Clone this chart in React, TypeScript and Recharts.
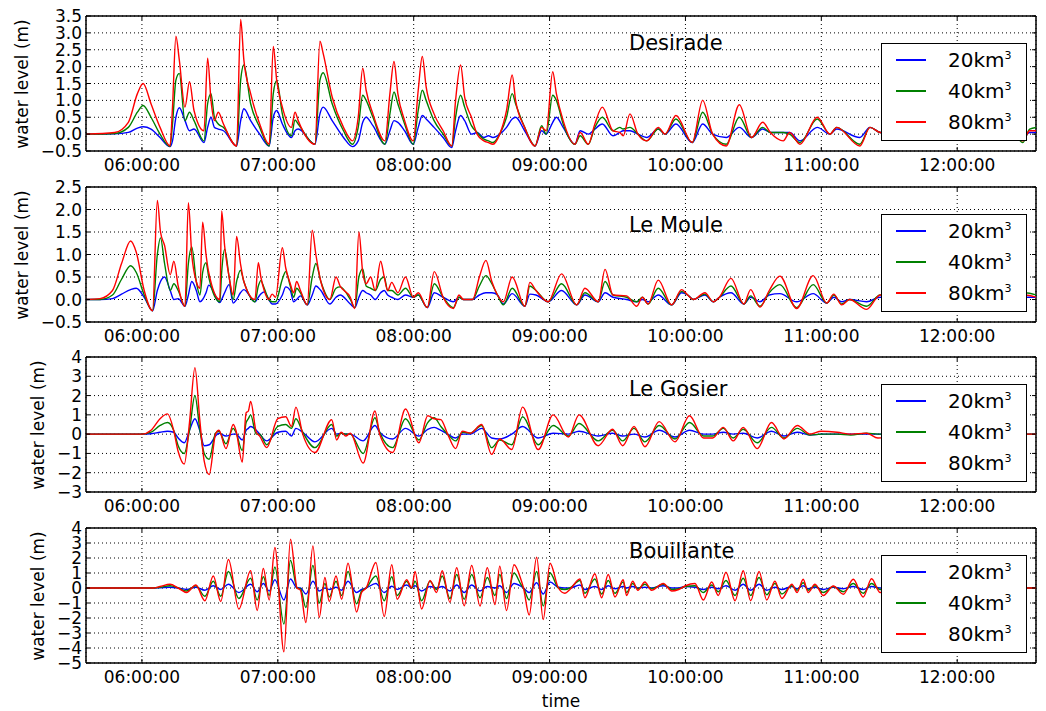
import React from "react";
import { LineChart, Line, XAxis, YAxis, CartesianGrid, ReferenceLine } from "recharts";

// time axis is in minutes after midnight
const X_MIN = 335.3;
const X_MAX = 754.8;
const timeTicks = [360, 420, 480, 540, 600, 660, 720];

const volumes = [20, 40, 80];
const seriesKeys = ["v20", "v40", "v80"];
const seriesColors = ["#0000ff", "#008000", "#ff0000"];

// Desirade
const desiradeTime = [
  335, 348, 354, 358, 360.5, 364, 368, 372.4, 373.5, 375,
  376.5, 379, 381, 383, 387.4, 389, 390.5, 392, 393.7, 396,
  401.8, 403.6, 405, 408, 412, 416.2, 418, 419.5, 422, 426,
  427.6, 429, 436.4, 438.6, 440, 444, 449, 453, 455.5, 457.5,
  459, 462, 467.3, 469.5, 471.3, 473, 476, 479.8, 482, 483.8,
  485.5, 489, 493, 496.8, 498.5, 500.7, 502.5, 505.5, 508, 511,
  513, 515, 518, 521, 523.5, 525, 529, 533.6, 536.5, 538.5,
  541.4, 543, 546, 551.2, 553.5, 557.1, 560, 563.3, 568, 571,
  572.5, 575.5, 579, 582.9, 588, 591, 595.8, 603, 607.6, 612,
  618, 623.8, 629.2, 634.1, 637.5, 643.2, 646, 650.6, 658.2, 663.8,
  666.8, 677, 681.5, 686, 700, 720, 745, 749, 752, 755,
];
const desirade20 = [
  0, 0.01, 0.05, 0.18, 0.22, 0.15, -0.1, -0.37, -0.2, 0.5,
  0.78, 0.4, 0.1, 0.15, -0.25, 0.2, 0.5, 0.2, 0.15, 0.1,
  -0.35, 0.4, 0.75, 0.4, 0, -0.35, 0.5, 0.7, 0.3, -0.1,
  0.1, 0.15, -0.3, 0.6, 0.8, 0.4, -0.1, -0.37, -0.2, 0.35,
  0.5, 0.25, -0.3, 0.1, 0.4, 0.35, 0.1, -0.3, 0.2, 0.55,
  0.45, 0.2, -0.1, -0.4, 0.1, 0.55, 0.4, 0, 0.05, -0.1,
  -0.05, -0.1, 0, 0.2, 0.45, 0.5, 0.1, -0.35, 0.1, 0,
  0.35, 0.5, 0.2, -0.3, 0.1, 0, 0.15, 0.3, -0.05, 0.05,
  0.1, 0.1, 0, -0.1, 0.15, 0, 0.3, -0.25, 0.3, 0,
  -0.1, 0.2, -0.1, 0.15, 0.05, 0.05, 0.05, -0.2, 0.2, 0,
  0.15, -0.1, 0.2, 0.05, 0, 0, 0, -0.1, 0.05, 0.05,
];
const desirade40 = [
  0, 0.02, 0.2, 0.65, 0.85, 0.5, 0, -0.37, 0.3, 1.6,
  1.8, 0.4, 0.65, 0.4, -0.2, 0.9, 1.2, 0.5, 0.3, 0.2,
  -0.35, 1.6, 2.05, 0.9, 0.2, -0.35, 1.2, 1.58, 0.6, -0.05,
  0.42, 0.3, -0.3, 1.6, 1.82, 0.9, 0.1, -0.3, 0.2, 1.15,
  1.0, 0.5, -0.3, 0.6, 1.25, 0.9, 0.3, -0.3, 0.7, 1.3,
  1.0, 0.4, 0, -0.35, 0.5, 1.15, 0.8, 0.25, 0.05, -0.15,
  -0.2, -0.25, 0, 0.5, 1.2, 0.9, 0.2, -0.35, 0.25, 0,
  1.15, 1.0, 0.3, -0.3, -0.05, -0.3, 0.2, 0.5, 0.1, 0.2,
  0.15, 0.2, 0, -0.2, 0.15, 0, 0.45, -0.25, 0.65, 0,
  -0.3, 0.5, -0.1, 0.2, 0.05, 0.05, 0, -0.25, 0.45, 0,
  0.2, -0.3, 0.2, 0.05, 0, 0, 0, -0.25, 0.15, 0.2,
];
const desirade80 = [
  0, 0.05, 0.35, 1.2, 1.5, 0.9, 0.2, -0.35, 0.8, 2.9,
  2.2, 0.8, 1.55, 0.7, 0.1, 2.25, 1.0, 0.4, 0.65, 0.3,
  -0.35, 3.4, 2.2, 1.2, 0.3, -0.3, 2.6, 1.6, 0.8, 0.2,
  0.65, 0.4, -0.3, 2.75, 2.4, 1.1, 0.2, -0.2, 0.5, 1.95,
  1.3, 0.6, -0.2, 1.2, 2.15, 1.2, 0.4, -0.2, 1.3, 2.3,
  1.4, 0.6, 0.1, -0.35, 1.0, 2.05, 1.1, 0.5, 0, -0.2,
  -0.25, -0.3, 0, 0.7, 1.75, 1.0, 0.2, -0.35, 0.2, 0.1,
  1.85, 1.2, 0.4, -0.3, 0.05, -0.3, 0.3, 0.8, 0.1, 0.05,
  -0.05, 0.6, 0, -0.2, 0.2, 0, 0.55, -0.25, 1.0, 0,
  -0.35, 0.87, -0.1, 0.35, 0.05, -0.2, 0.05, -0.3, 0.5, 0,
  0.2, -0.35, 0.2, 0.05, 0, 0, 0, -0.2, 0.1, 0.1,
];

// Le Moule
const mouleTime = [
  335, 341.5, 347, 351, 355, 357.5, 361, 364.7, 366.8, 368.2,
  370, 372.5, 374.1, 376, 379, 380.5, 382, 384, 385.6, 386.8,
  388.3, 389.5, 394.4, 395.2, 396.5, 398.5, 400.3, 401.8, 403.5, 405,
  409.9, 411.4, 412.5, 414, 416, 417.5, 419, 422, 423.5, 425.5,
  427, 428.3, 430, 433, 435.2, 436.8, 439, 443, 445.7, 447.5,
  452, 454, 455.8, 457.5, 459, 461, 463, 465.4, 467, 468.5,
  470.3, 473, 476.4, 479.8, 482, 486, 489.1, 493, 497.5, 500,
  502, 506, 509, 511.9, 514.5, 517, 519.6, 523.5, 529.1, 531.3,
  534, 539.4, 545.3, 552, 555.6, 561.5, 564.5, 568, 574, 578.5,
  581, 583.5, 588, 593.9, 598.3, 601, 603.5, 608.6, 612.3, 615,
  620.1, 625.8, 628.8, 632.9, 637, 641.7, 649.1, 656.4, 662.4, 665.5,
  669, 672.5, 680, 686, 700, 720, 745, 750, 755,
];
const moule20 = [
  0, 0, 0.02, 0.12, 0.22, 0.25, 0.05, -0.25, 0.2, 0.4,
  0.5, 0.2, 0, 0.02, -0.15, 0.1, 0.4, 0.2, -0.05, 0,
  0.15, 0.32, -0.07, 0, 0.15, 0.33, -0.08, 0, 0.15, 0.22,
  -0.05, 0.05, 0.12, 0.17, 0, -0.1, -0.1, 0.1, 0.28, 0.2,
  -0.05, 0, 0.08, -0.12, 0.1, 0.3, 0.2, -0.1, 0.05, 0.1,
  -0.1, -0.18, 0.05, 0.2, 0.15, 0.1, 0, 0.15, 0.2, 0.1,
  0.05, 0, 0.1, 0.05, 0.1, -0.18, 0.15, 0.05, -0.05, 0.05,
  0, 0, 0.1, 0.15, 0.15, 0.1, -0.1, 0.13, -0.15, 0.12,
  0.1, -0.05, 0.2, -0.12, 0.1, -0.05, 0.15, 0.05, 0, -0.05,
  0, -0.05, 0.1, -0.12, 0.15, 0.1, 0, 0.1, -0.05, 0.05,
  0.15, -0.1, 0.05, -0.05, 0.1, 0.13, -0.05, 0.13, -0.08, 0.05,
  -0.05, 0, -0.05, 0.05, 0, 0, 0, 0.05, 0.05,
];
const moule40 = [
  0, 0, 0.1, 0.45, 0.75, 0.6, 0.1, -0.25, 1.0, 1.37,
  0.8, 0.2, 0.35, 0.2, -0.15, 0.8, 1.17, 0.4, 0.1, 0.6,
  0.82, 0.5, -0.05, 0.6, 1.12, 0.5, 0, 0.4, 0.65, 0.4,
  -0.05, 0.3, 0.42, 0.25, 0, -0.05, -0.05, 0.45, 0.62, 0.3,
  0.05, 0.25, 0.15, -0.12, 0.5, 0.8, 0.4, 0, 0.25, 0.28,
  0, -0.18, 0.5, 0.68, 0.3, 0.25, 0.2, 0.45, 0.5, 0.2,
  0.2, 0.1, 0.25, 0.05, 0.1, -0.18, 0.35, 0.05, -0.18, 0.05,
  0, 0, 0.3, 0.53, 0.35, 0.1, -0.12, 0.25, -0.15, 0.3,
  0.2, -0.05, 0.35, -0.12, 0.15, -0.05, 0.4, 0.1, 0.05, -0.05,
  0.05, -0.1, 0.25, -0.12, 0.18, 0.1, 0, 0.12, -0.05, 0.05,
  0.3, -0.1, 0.08, -0.15, 0.15, 0.33, -0.18, 0.33, -0.08, 0.1,
  -0.1, 0, -0.15, 0.1, 0, 0, 0, 0.15, 0.1,
];
const moule80 = [
  0, 0.02, 0.2, 0.8, 1.3, 1.05, 0.2, -0.25, 2.2, 1.5,
  1.2, 0.55, 0.85, 0.3, -0.15, 2.15, 1.0, 0.4, 0.25, 1.72,
  1.0, 0.6, 0, 1.97, 1.2, 0.5, 0.1, 1.4, 0.8, 0.4,
  0, 0.82, 0.5, 0.2, 0, 0.12, 0.05, 1.15, 0.7, 0.35,
  0.15, 0.4, 0.2, -0.12, 1.54, 1.0, 0.4, 0, 0.5, 0.3,
  0.05, -0.2, 1.5, 0.6, 0.35, 0.5, 0.2, 0.85, 0.5, 0.2,
  0.38, 0.15, 0.5, 0.05, 0.15, -0.18, 0.62, 0.05, -0.2, 0.1,
  0, 0, 0.5, 0.87, 0.4, 0.1, -0.05, 0.5, -0.15, 0.38,
  0.2, -0.05, 0.57, -0.12, 0.25, -0.05, 0.67, 0.1, 0.08, -0.15,
  0.05, -0.1, 0.43, -0.12, 0.22, 0.1, 0, 0.15, -0.05, 0.05,
  0.47, -0.1, 0.22, -0.17, 0.2, 0.52, -0.2, 0.53, -0.08, 0.12,
  -0.12, 0, -0.22, 0.1, 0, 0, 0, 0.1, 0.05,
];

// Le Gosier
const gosierTime = [
  335, 360, 364, 368, 371.3, 374, 376, 378.7, 381, 383.4,
  385.5, 387.5, 389.7, 392.5, 394, 397.1, 400.3, 401.5, 404.3, 406,
  407, 408, 410.5, 412, 415.1, 420, 423.5, 426, 428, 431,
  436.4, 443.8, 446, 448, 450, 452, 457.7, 462.9, 465, 470.7,
  476.4, 482.3, 486.2, 489, 492, 495, 498.5, 501.5, 505, 510,
  514.4, 518, 523.3, 528.1, 535, 541.6, 548.3, 553, 561.5, 567.8,
  572.3, 577.3, 582.1, 588.4, 595.4, 601.8, 608, 612, 616.7, 621.1,
  625.5, 631.7, 638, 643.5, 649.4, 655, 660, 667, 673, 680,
  685, 700, 755,
];
const gosier20 = [
  0, 0, 0.02, 0.1, 0.15, 0.1, -0.2, -0.45, 0.2, 0.8,
  0.2, -0.6, -0.55, -0.1, 0.05, -0.1, 0, 0, -0.3, 0.2,
  0.3, 0.4, 0.2, 0, -0.35, 0.1, 0.15, -0.1, 0.3, 0.1,
  -0.4, 0.3, 0, 0.05, 0, 0, -0.35, 0.45, 0.1, -0.25,
  0.3, -0.1, 0.25, 0.35, 0.2, 0, -0.2, 0, 0, 0.3,
  -0.2, -0.25, 0, 0.4, -0.2, 0.05, 0, 0.15, -0.1, 0.05,
  -0.1, 0, -0.15, 0.2, -0.15, 0.2, 0, 0, 0.1, 0,
  0.05, -0.2, 0.15, -0.1, 0.1, -0.05, 0, 0, 0, 0,
  0, 0, 0,
];
const gosier40 = [
  0, 0, 0.1, 0.45, 0.6, 0.2, -0.6, -1.0, 0.2, 2.0,
  0.3, -1.0, -1.3, 0.05, 0.15, -0.5, 0.3, 0.1, -0.85, 0.6,
  0.8, 1.0, 0, 0, -0.55, 0.4, 0.5, 0.3, 0.8, 0.1,
  -0.7, 0.5, -0.1, 0.05, 0, 0, -1.0, 0.85, 0.1, -0.7,
  0.8, -0.3, 0.6, 0.85, 0.4, 0, -0.35, 0.1, 0.05, 0.45,
  -0.7, -0.3, -0.55, 0.9, -0.55, 0.45, -0.1, 0.55, -0.35, 0.2,
  -0.35, 0.3, -0.4, 0.45, -0.25, 0.6, -0.1, -0.1, 0.3, -0.2,
  0.25, -0.45, 0.35, -0.2, 0.3, -0.05, 0, 0, -0.05, 0.05,
  0, 0, 0,
];
const gosier80 = [
  0, 0, 0.2, 0.8, 1.05, 0.2, -0.9, -1.55, 0.6, 3.45,
  0.8, -1.4, -2.1, 0, 0.2, -0.75, 0.5, 0.2, -1.45, 1.1,
  1.2, 1.7, 0.1, -0.1, -0.7, 0.8, 0.9, 0.4, 1.4, 0,
  -0.95, 0.75, -0.3, 0.1, -0.1, 0.05, -1.5, 1.2, 0, -0.95,
  1.3, -0.45, 0.95, 0.8, 0.75, 0, -0.75, 0.15, 0.05, 0.5,
  -1.05, -0.25, -0.8, 1.4, -0.8, 1.0, -0.15, 1.0, -0.6, 0.25,
  -0.6, 0.4, -0.65, 0.65, -0.4, 0.95, -0.2, -0.2, 0.35, -0.35,
  0.35, -0.75, 0.6, -0.25, 0.45, 0, 0.15, 0.1, 0, 0.05,
  -0.2, 0, 0,
];

// Bouillante
const bouillanteTime = [
  335, 365, 368, 372.4, 376, 379.7, 383.8, 387.8, 391.5, 394.8,
  398.2, 402.8, 408, 410.9, 413.6, 416.2, 418.7, 422.7, 425.6, 428.5,
  430, 432.4, 435.5, 438.3, 440.8, 442.7, 445.7, 448.2, 451, 454.8,
  457, 459, 463.3, 467, 470.3, 472.7, 476.9, 479.1, 480.6, 483.5,
  487.2, 490.1, 492.6, 496, 499, 502.3, 505.6, 509.3, 512.5, 515.9,
  518, 521, 524.3, 527.5, 528.5, 531, 534.3, 537.2, 540.2, 543.9,
  546.8, 549, 553.4, 555.6, 560, 563, 565.9, 568.9, 572.5, 574,
  576.7, 579, 582.1, 585, 590.2, 594, 597, 600, 604.2, 607.9,
  611.6, 614.5, 617.9, 621.9, 625.5, 628.8, 632.5, 635.9, 639.5, 642.6,
  647, 649.3, 652, 654.2, 657.2, 660.9, 665.3, 669.7, 674.1, 678.5,
  682.2, 685.9, 700, 755,
];
const bouillante20 = [
  0, 0, 0.02, 0.05, 0, -0.1, 0.05, -0.15, 0.15, -0.1,
  0.25, -0.3, 0.25, -0.25, 0.3, -0.2, 0.55, -0.8, 0.6, 0,
  0, -0.4, 0.45, -0.2, 0, -0.1, 0.05, -0.15, 0.45, -0.3,
  -0.1, 0, 0.3, -0.3, 0.12, -0.1, 0.2, 0, 0.15, -0.2,
  0.1, 0, 0.1, -0.2, 0.2, -0.3, 0.2, -0.2, 0.1, 0,
  0.15, -0.3, 0.3, 0.1, 0, -0.3, 0.35, -0.4, 0.4, 0.05,
  0, 0, 0.2, -0.1, 0.1, -0.1, 0.15, -0.05, 0.1, 0,
  0.1, 0, 0.05, 0, 0.15, 0, 0, 0.1, 0.05, -0.1,
  0.05, -0.05, 0.15, -0.15, 0.25, -0.15, 0.25, -0.15, 0.05, -0.1,
  0.1, -0.05, 0.15, -0.05, 0.05, -0.1, 0.05, -0.05, 0.1, -0.1,
  0.1, 0, 0, 0,
];
const bouillante40 = [
  0, 0, 0.05, 0.15, 0, -0.2, 0.15, -0.55, 0.45, -0.55,
  1.1, -0.7, 0.65, -0.8, 0.75, -0.5, 1.4, -2.4, 1.85, 0,
  -0.05, -1.3, 1.5, -1.0, 0.3, -0.6, 0.45, -0.5, 1.1, -1.05,
  -0.2, 0, 0.8, -0.85, 0.75, -0.5, 0.45, 0, 0.45, -0.85,
  0.45, -0.1, 0.8, -0.7, 0.9, -0.75, 0.9, -0.65, 0.7, -0.5,
  0.9, -0.7, 1.0, 0.2, 0, -0.8, 1.1, -1.2, 1.0, 0,
  -0.1, 0, 0.5, -0.35, 0.6, -0.4, 0.5, -0.35, 0.4, -0.3,
  0.3, -0.05, 0.25, -0.05, 0.25, -0.1, -0.05, 0.1, 0.15, -0.3,
  0.2, -0.25, 0.5, -0.5, 0.65, -0.5, 0.7, -0.45, 0.3, -0.4,
  0.15, -0.15, 0.35, -0.15, 0.15, -0.3, 0.1, -0.25, 0.3, -0.35,
  0.3, -0.1, 0, 0,
];
const bouillante80 = [
  0, 0, 0.1, 0.25, 0, -0.3, 0.2, -0.85, 0.8, -0.9,
  1.9, -1.4, 1.15, -1.5, 1.3, -0.8, 2.7, -4.25, 3.25, 0,
  -0.15, -2.3, 2.8, -1.95, 0.7, -0.9, 0.8, -0.75, 1.65, -1.6,
  -0.3, 0, 1.7, -1.9, 1.55, -0.75, 0.55, 0, 1.1, -1.4,
  0.5, -0.3, 1.15, -0.95, 1.35, -1.18, 1.5, -1.2, 1.35, -1.1,
  1.45, -1.5, 1.55, 0.5, 0, -1.8, 2.05, -2.1, 1.65, 0,
  -0.35, -0.1, 0.6, -0.65, 0.95, -0.65, 0.9, -0.6, 0.55, -0.5,
  0.45, -0.15, 0.4, -0.15, 0.3, -0.2, -0.1, 0.15, 0.3, -0.8,
  0.4, -0.5, 1.05, -0.85, 1.15, -0.85, 1.1, -0.8, 0.45, -0.7,
  0.25, -0.3, 0.58, -0.3, 0.25, -0.5, 0.13, -0.42, 0.58, -0.6,
  0.62, -0.3, 0, 0,
];

const desiradeTicks = [-0.5, 0, 0.5, 1, 1.5, 2, 2.5, 3, 3.5];
const mouleTicks = [-0.5, 0, 0.5, 1, 1.5, 2, 2.5];
const gosierTicks = [-3, -2, -1, 0, 1, 2, 3, 4];
const bouillanteTicks = [-5, -4, -3, -2, -1, 0, 1, 2, 3, 4];

const W = 1046;
const PLOT_LEFT = 86;
const PLOT_W = 950;
const PLOT_H = 135;
const MT = 14;
const XH = 30;
const FONT = '"DejaVu Sans", sans-serif';

function fmtTime(v: number) {
  const h = Math.floor(v / 60);
  const m = Math.round(v - h * 60);
  return `${String(h).padStart(2, "0")}:${String(m).padStart(2, "0")}:00`;
}

function fmtY(v: number, decimals: number) {
  const s = Math.abs(v).toFixed(decimals);
  return v < 0 ? `\u2212${s}` : s;
}

type PanelProps = {
  title: string;
  time: number[];
  s20: number[];
  s40: number[];
  s80: number[];
  yTicks: number[];
  decimals: number;
  top: number;
  titleY: number;
  yLabelX: number;
};

function Panel(p: PanelProps) {
  const data = p.time.map((t, i) => ({ t, v20: p.s20[i], v40: p.s40[i], v80: p.s80[i] }));
  const yMin = p.yTicks[0];
  const yMax = p.yTicks[p.yTicks.length - 1];

  const renderXTick = (props: any) => {
    const { x, y, payload } = props;
    return (
      <g>
        <line x1={x} y1={y} x2={x} y2={y - 4} stroke="#000" />
        <line x1={x} y1={y - PLOT_H} x2={x} y2={y - PLOT_H + 4} stroke="#000" />
        <text x={x} y={y + 20} textAnchor="middle" fontSize={17} fontFamily={FONT} fill="#000">
          {fmtTime(payload.value)}
        </text>
      </g>
    );
  };

  const renderYTick = (props: any) => {
    const { x, y, payload } = props;
    return (
      <g>
        <line x1={x} y1={y} x2={x + 4} y2={y} stroke="#000" />
        <line x1={x + PLOT_W} y1={y} x2={x + PLOT_W - 4} y2={y} stroke="#000" />
        <text x={x - 4} y={y + 6} textAnchor="end" fontSize={17} fontFamily={FONT} fill="#000">
          {fmtY(payload.value, p.decimals)}
        </text>
      </g>
    );
  };

  return (
    <>
      <div style={{ position: "absolute", left: 0, top: p.top - MT }}>
        <LineChart
          width={W}
          height={MT + PLOT_H + XH}
          data={data}
          margin={{ top: MT, right: W - PLOT_LEFT - PLOT_W, bottom: 0, left: 0 }}
        >
          <CartesianGrid stroke="#000" strokeDasharray="1 3" />
          <XAxis
            dataKey="t"
            type="number"
            domain={[X_MIN, X_MAX]}
            ticks={timeTicks}
            interval={0}
            allowDataOverflow
            height={XH}
            tickSize={0}
            tickMargin={0}
            tickLine={false}
            axisLine={{ stroke: "#000", strokeWidth: 1.5 }}
            tick={renderXTick}
          />
          <YAxis
            type="number"
            domain={[yMin, yMax]}
            ticks={p.yTicks}
            interval={0}
            allowDataOverflow
            width={PLOT_LEFT}
            tickSize={0}
            tickMargin={0}
            tickLine={false}
            axisLine={{ stroke: "#000", strokeWidth: 1.5 }}
            tick={renderYTick}
          />
          <ReferenceLine y={yMax} stroke="#000" strokeWidth={1.5} />
          <ReferenceLine x={X_MAX} stroke="#000" strokeWidth={1.5} />
          {seriesKeys.map((k, i) => (
            <Line
              key={k}
              dataKey={k}
              type="monotone"
              stroke={seriesColors[i]}
              strokeWidth={1.4}
              dot={false}
              isAnimationActive={false}
            />
          ))}
        </LineChart>
      </div>
      <div
        style={{
          position: "absolute",
          left: 629,
          top: p.titleY - 10,
          fontSize: 21,
          lineHeight: 1,
          fontFamily: FONT,
          whiteSpace: "nowrap",
        }}
      >
        {p.title}
      </div>
      <div
        style={{
          position: "absolute",
          left: p.yLabelX,
          top: p.top + PLOT_H / 2,
          transform: "translate(-50%, -50%) rotate(-90deg)",
          fontSize: 17,
          lineHeight: 1,
          fontFamily: FONT,
          whiteSpace: "nowrap",
        }}
      >
        water level (m)
      </div>
      <div
        style={{
          position: "absolute",
          left: 881,
          top: p.top + 27,
          width: 146,
          height: 98,
          border: "1px solid #000",
          background: "#fff",
          boxSizing: "border-box",
        }}
      >
        {seriesKeys.map((k, i) => (
          <div key={k} style={{ position: "absolute", left: 0, top: 16 + i * 31, width: "100%" }}>
            <div
              style={{
                position: "absolute",
                left: 14,
                top: -1,
                width: 30,
                height: 2,
                background: seriesColors[i],
              }}
            />
            <div
              style={{
                position: "absolute",
                left: 66,
                top: -10,
                fontSize: 20,
                lineHeight: 1,
                fontFamily: FONT,
                whiteSpace: "nowrap",
              }}
            >
              {volumes[i]}km
              <span style={{ fontSize: 11, position: "relative", top: -8 }}>3</span>
            </div>
          </div>
        ))}
      </div>
    </>
  );
}

export default function App() {
  return (
    <div
      style={{
        position: "absolute",
        left: 0,
        top: 0,
        width: W,
        height: 711,
        background: "#fff",
        fontFamily: FONT,
      }}
    >
      <Panel
        title="Desirade"
        time={desiradeTime}
        s20={desirade20}
        s40={desirade40}
        s80={desirade80}
        yTicks={desiradeTicks}
        decimals={1}
        top={16}
        titleY={43}
        yLabelX={22}
      />
      <Panel
        title="Le Moule"
        time={mouleTime}
        s20={moule20}
        s40={moule40}
        s80={moule80}
        yTicks={mouleTicks}
        decimals={1}
        top={187}
        titleY={225}
        yLabelX={22}
      />
      <Panel
        title="Le Gosier"
        time={gosierTime}
        s20={gosier20}
        s40={gosier40}
        s80={gosier80}
        yTicks={gosierTicks}
        decimals={0}
        top={357}
        titleY={389}
        yLabelX={38}
      />
      <Panel
        title="Bouillante"
        time={bouillanteTime}
        s20={bouillante20}
        s40={bouillante40}
        s80={bouillante80}
        yTicks={bouillanteTicks}
        decimals={0}
        top={528}
        titleY={551}
        yLabelX={38}
      />
      <div
        style={{
          position: "absolute",
          left: 561,
          top: 701,
          transform: "translate(-50%, -50%)",
          fontSize: 17,
          lineHeight: 1,
          fontFamily: FONT,
        }}
      >
        time
      </div>
    </div>
  );
}
